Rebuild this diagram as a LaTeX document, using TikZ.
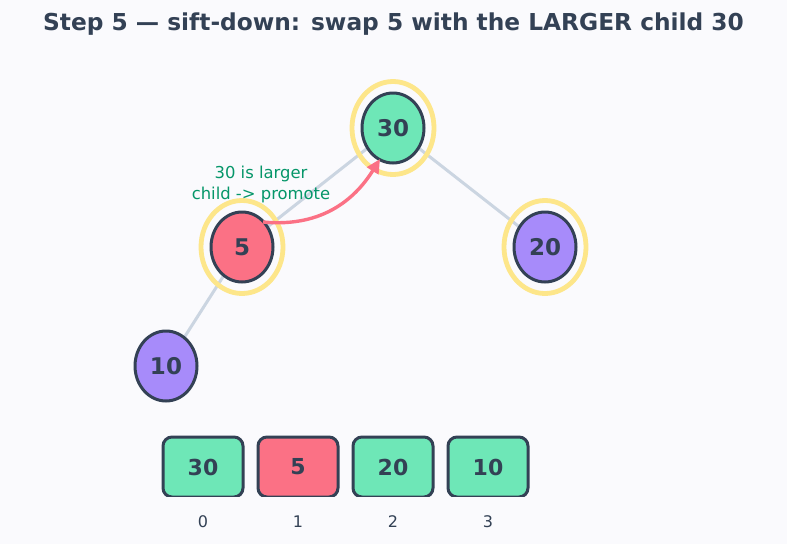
\documentclass[tikz,border=0pt]{standalone}
\usepackage{fontspec}
\setmainfont{DejaVu Sans}
\usetikzlibrary{arrows.meta,shapes.geometric}
\definecolor{ink}{HTML}{334155}
\definecolor{bgcol}{HTML}{FAFAFD}
\definecolor{mint}{HTML}{6EE7B7}
\definecolor{rose}{HTML}{FB7185}
\definecolor{violet}{HTML}{A78BFA}
\definecolor{glow}{HTML}{FDE68A}
\definecolor{edgegray}{HTML}{CBD5E1}
\definecolor{notegreen}{HTML}{059669}

\begin{document}
\begin{tikzpicture}[x=1pt,y=-1pt,
    heapnode/.style={ellipse,draw=ink,line width=3pt,minimum width=62pt,minimum height=70pt,
      inner sep=0pt,text=ink,font=\bfseries\fontsize{23}{26}\selectfont},
    ring/.style={ellipse,draw=glow,line width=4.8pt,minimum width=82pt,minimum height=93pt},
    cell/.style={rectangle,rounded corners=9pt,draw=ink,line width=3pt,minimum width=80pt,
      minimum height=60pt,text=ink,font=\bfseries\fontsize{22}{26}\selectfont},
    idx/.style={text=ink,font=\fontsize{16}{19}\selectfont},
    treeedge/.style={draw=edgegray,line width=3pt}]
    \fill[bgcol] (0,0) rectangle (787,544);
    \node[text=ink,font=\bfseries\fontsize{23.3}{28}\selectfont] (title) at (393.5,24) {Step 5 — sift-down: swap 5 with the LARGER child 30};

    \coordinate (c0) at (393,128);
    \coordinate (c1) at (242,247);
    \coordinate (c2) at (545,247);
    \coordinate (c3) at (166,366);
    \draw[treeedge] (c0) -- (c1) (c0) -- (c2) (c1) -- (c3);
    \node[ring] (r0) at (c0) {};
    \node[ring] (r1) at (c1) {};
    \node[ring] (r2) at (c2) {};
    \node[heapnode,fill=mint] (n0) at (c0) {30};
    \node[heapnode,fill=rose] (n1) at (c1) {5};
    \node[heapnode,fill=violet] (n2) at (c2) {20};
    \node[heapnode,fill=violet] (n3) at (c3) {10};

    \coordinate (tail) at (263,222);
    \coordinate (head) at (380,159);
    \draw[rose,line width=3.4pt,-{Triangle[length=14pt,width=13pt]}]
      (tail) .. controls (325,228) and (357,196) .. (head);
    \node[text=notegreen,align=center,font=\fontsize{16.4}{21}\selectfont] (note) at (261,184)
      {30 is larger\\child -> promote};

    \begin{scope}
      \clip (0,0) rectangle (787,496.5);
      \node[cell,fill=mint] (a0) at (203,467) {30};
      \node[cell,fill=rose] (a1) at (298,467) {5};
      \node[cell,fill=mint] (a2) at (393,467) {20};
      \node[cell,fill=mint] (a3) at (488,467) {10};
    \end{scope}
    \node[idx] (i0) at (203,522) {0};
    \node[idx] (i1) at (298,522) {1};
    \node[idx] (i2) at (393,522) {2};
    \node[idx] (i3) at (488,522) {3};
\end{tikzpicture}
\end{document}
